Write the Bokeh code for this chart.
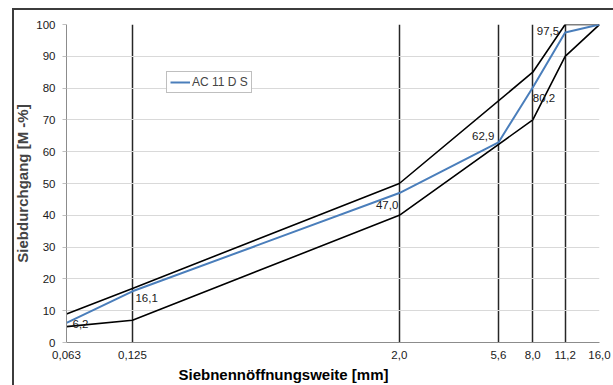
from bokeh.plotting import figure
from bokeh.models import (FixedTicker, CustomJSTickFormatter, Title, Legend, LegendItem,
                          ColumnDataSource, InlineStyleSheet)
from bokeh.core.properties import value
from bokeh.embed import file_html
from bokeh.resources import INLINE

sieves = [0.063, 0.125, 2.0, 5.6, 8.0, 11.2, 16.0]
ac11 = [6.2, 16.1, 47.0, 62.9, 80.2, 97.5, 100.0]
ac11_labels = ["6,2", "16,1", "47,0", "62,9", "80,2", "97,5", ""]
upper_sieves = [0.063, 0.125, 2.0, 8.0, 11.2, 16.0]
upper = [9, 17, 50, 85, 100, 100]
lower_sieves = [0.063, 0.125, 2.0, 8.0, 11.2, 16.0]
lower = [5, 7, 40, 70, 90, 100]
y_ticks = list(range(0, 101, 10))

FONT = "Liberation Sans"
BLUE = "#4a7ebb"

p = figure(width=613, height=385, x_axis_type="log", x_range=(0.063, 16.0), y_range=(0, 100),
           output_backend="svg", toolbar_location=None,
           min_border_left=66, min_border_right=14, min_border_top=24, min_border_bottom=0)
p.outline_line_color = None
p.background_fill_color = "white"
p.border_fill_color = "white"

p.xaxis.ticker = FixedTicker(ticks=sieves)
p.xaxis.formatter = CustomJSTickFormatter(code="""
    const s = tick < 1 ? tick.toFixed(3) : tick.toFixed(1);
    return s.replace('.', ',');
""")
p.xaxis.minor_tick_line_color = None
p.xaxis.major_tick_line_color = None
p.xaxis.axis_line_color = "#8c8c8c"
p.xaxis.major_label_text_font = FONT
p.xaxis.major_label_text_font_size = "11.5px"
p.xaxis.major_label_text_color = "#1a1a1a"
p.xaxis.major_label_standoff = 2

p.yaxis.ticker = FixedTicker(ticks=y_ticks)
p.yaxis.minor_tick_line_color = None
p.yaxis.major_tick_line_color = "#bfbfbf"
p.yaxis.major_tick_out = 4
p.yaxis.major_tick_in = 0
p.yaxis.axis_line_color = "#8c8c8c"
p.yaxis.major_label_text_font = FONT
p.yaxis.major_label_text_font_size = "11.5px"
p.yaxis.major_label_text_color = "#1a1a1a"
p.yaxis.major_label_standoff = 7
p.yaxis.axis_label = "Siebdurchgang [M -%]"
p.yaxis.axis_label_text_font = FONT
p.yaxis.axis_label_text_font_style = "bold"
p.yaxis.axis_label_text_font_size = "15px"
p.yaxis.axis_label_standoff = 2

p.xgrid.grid_line_color = "#262626"
p.xgrid.grid_line_width = 1.5
p.ygrid.grid_line_color = "#d9d9d9"
p.ygrid.grid_line_width = 1

p.line(upper_sieves, upper, line_color="black", line_width=1.6)
p.line(lower_sieves, lower, line_color="black", line_width=1.6)
blue = p.line(sieves, ac11, line_color=BLUE, line_width=2)

# data labels
offs_x = [6, 3, -1, -4, 0, -6]
offs_y = [1, 7, 12, -6, 11, -1]
aligns = ["left", "left", "right", "right", "left", "right"]
src = ColumnDataSource(dict(x=sieves[:6], y=ac11[:6], t=ac11_labels[:6], dx=offs_x, dy=offs_y, a=aligns))
p.text(x="x", y="y", text="t", x_offset="dx", y_offset="dy", text_align="a", source=src,
       text_baseline="middle", text_font=value(FONT), text_font_size="11.5px", text_color="#1a1a1a")

legend = Legend(items=[LegendItem(label="AC 11 D S", renderers=[blue])], location=(100, 249))
legend.border_line_color = "#7f7f7f"
legend.border_line_width = 1
legend.label_text_font = FONT
legend.label_text_font_size = "12px"
legend.padding = 3
legend.margin = 0
legend.spacing = 0
legend.glyph_width = 20
legend.glyph_height = 14
legend.label_standoff = 2
legend.label_height = 14
p.add_layout(legend, "center")

xtitle = Title(text="Siebnennöffnungsweite [mm]", align="left", offset=112,
               text_font=FONT, text_font_style="bold", text_font_size="15px", text_color="black",
               standoff=5)
p.add_layout(xtitle, "below")

p.stylesheets = [InlineStyleSheet(css="""
:host { position: relative; }
:host::after { content: ''; position: absolute; left: 12px; top: 8px; right: 0px; bottom: 0px;
  border-style: solid; border-color: #3c3c3c; border-width: 2px 0 0 2px;
  pointer-events: none; box-sizing: border-box; }
""")]

html = file_html(p, INLINE)
html = html.replace("<head>", "<head><style>html, body { margin: 0; padding: 0; overflow: hidden; }</style>", 1)
open("out.html", "w").write(html)
